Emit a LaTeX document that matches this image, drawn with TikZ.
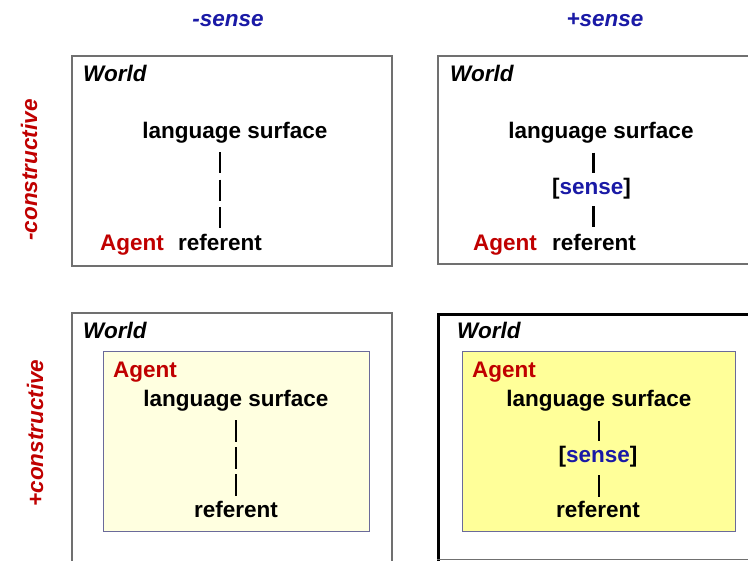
\documentclass[tikz,border=0pt]{standalone}
\usepackage{fontspec}
\setmainfont{Liberation Sans}
\definecolor{hblue}{HTML}{1A1AA6}
\definecolor{hred}{HTML}{C00000}
\definecolor{boxgray}{HTML}{707070}
\definecolor{innerline}{HTML}{6A6A9A}
\definecolor{paleyellow}{HTML}{FFFFE0}
\definecolor{strongyellow}{HTML}{FFFF99}
\begin{document}
\begin{tikzpicture}[x=1pt,y=-1pt,
  txt/.style={inner sep=0pt, font=\fontsize{22.5}{27}\selectfont\bfseries, text height=17pt, text depth=5pt},
  ital/.style={txt, font=\fontsize{22.5}{27}\selectfont\bfseries\itshape},
  world/.style={ital, anchor=base west},
  hdr/.style={ital, text=hblue, anchor=base},
  side/.style={ital, text=hred, anchor=base, rotate=90},
  agent/.style={txt, text=hred, anchor=base west},
  word/.style={txt, anchor=base},
  wordw/.style={txt, anchor=base west},
  outerbox/.style={draw=boxgray, line width=1.3pt},
  thickbox/.style={draw=black, line width=3pt},
  innerbox/.style={draw=innerline, line width=1pt},
  bar/.style={draw=black, line width=2.8pt}
]
\useasboundingbox (0,0) rectangle (748,561);
\fill[white] (0,0) rectangle (748,561);
\clip (0,0) rectangle (748,561);

% headers
\node[hdr] (hminus) at (228,27) {-sense};
\node[hdr] (hplus) at (605,27) {+sense};
\node[side] (cminus) at (37,170) {-constructive};
\node[side] (cplus) at (43,433) {+constructive};

% ---- top-left
\draw[outerbox] (72,56) rectangle (392,266);
\node[world] (w1) at (83,82) {World};
\node[word] (ls1) at (235,139) {language surface};
\node[agent] (ag1) at (100,251) {Agent};
\node[wordw] (rf1) at (178,251) {referent};
\draw[bar, dash pattern=on 21pt off 6.5pt, shorten <=8pt, shorten >=6pt]
  (ls1.south -| rf1.north) -- (rf1.north);

% ---- top-right
\draw[outerbox] (438,56) rectangle (760,264);
\node[world] (w2) at (450,82) {World};
\node[word] (ls2) at (601,139) {language surface};
\node[word] (sn2) at (591.5,195) {[\textcolor{hblue}{sense}]};
\node[agent] (ag2) at (473,251) {Agent};
\node[wordw] (rf2) at (552,251) {referent};
\draw[bar, shorten <=8.5pt, shorten >=5pt] (ls2.south -| 593.5,0) -- (sn2.north -| 593.5,0);
\draw[bar, shorten <=6pt, shorten >=7pt] (sn2.south -| 593.5,0) -- (rf2.north -| 593.5,0);

% ---- bottom-left
\draw[outerbox] (72,313) rectangle (392,580);
\draw[innerbox, fill=paleyellow] (103,352) rectangle (369,532);
\node[world] (w3) at (83,339) {World};
\node[agent] (ag3) at (113,378) {Agent};
\node[word] (ls3) at (236,407) {language surface};
\node[word] (rf3) at (236,518) {referent};
\draw[bar, dash pattern=on 21.5pt off 5.5pt, shorten <=8pt, shorten >=4pt]
  (ls3.south) -- (rf3.north);

% ---- bottom-right
\draw[thickbox] (438.5,314.5) rectangle (770,580);
\draw[draw=boxgray, line width=1pt] (437,560) -- (748,560);
\draw[innerbox, fill=strongyellow] (462,352) rectangle (735,532);
\node[world] (w4) at (457,339) {World};
\node[agent] (ag4) at (472,378) {Agent};
\node[word] (ls4) at (599,407) {language surface};
\node[word] (sn4) at (598,463) {[\textcolor{hblue}{sense}]};
\node[word] (rf4) at (598,518) {referent};
\draw[bar, shorten <=8.5pt, shorten >=4.5pt] (ls4.south -| 599,0) -- (sn4.north -| 599,0);
\draw[bar, shorten <=7pt, shorten >=4pt] (sn4.south -| 599,0) -- (rf4.north -| 599,0);
\end{tikzpicture}
\end{document}
